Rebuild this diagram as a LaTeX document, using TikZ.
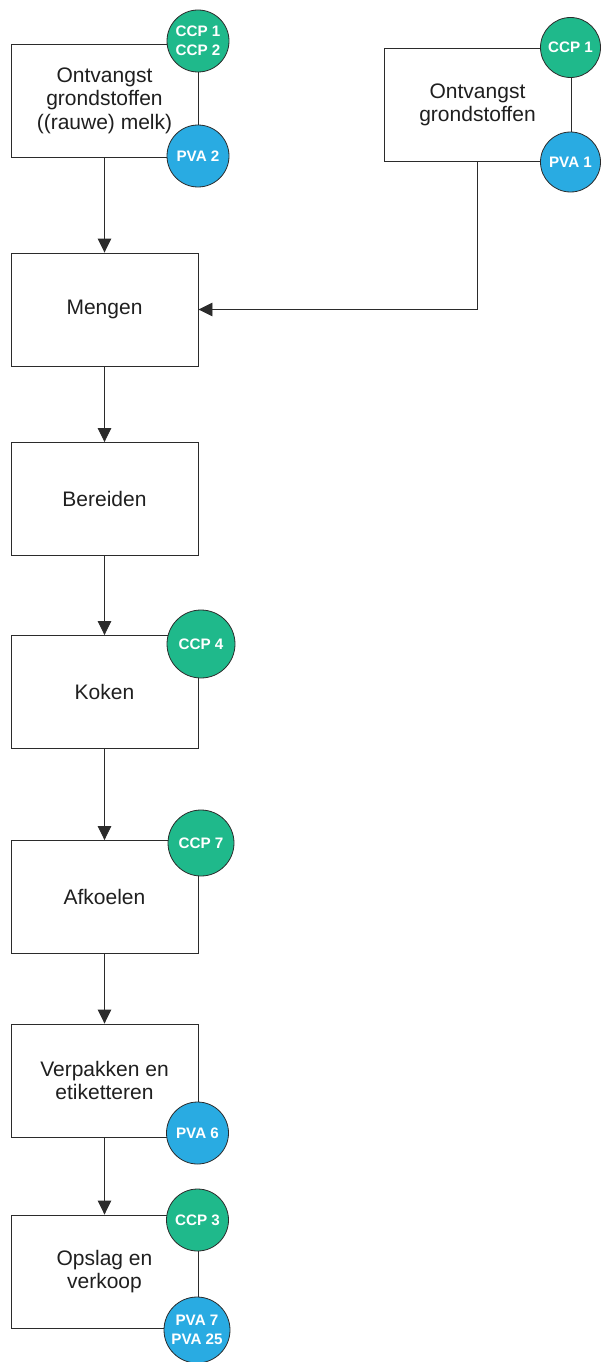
\documentclass[tikz,border=0pt]{standalone}
\usepackage{fontspec}
\setmainfont{Liberation Sans}
\usetikzlibrary{arrows.meta}
\definecolor{ccpgreen}{HTML}{1FB98B}
\definecolor{pvablue}{HTML}{29ABE2}
\definecolor{edge}{HTML}{2B2B2B}

\begin{document}
\begin{tikzpicture}[x=1pt,y=-1pt,
  stepbox/.style={draw=edge, line width=0.9pt, fill=white, text=black!88,
    minimum width=187pt, minimum height=113pt, inner sep=0pt, align=center,
    font=\fontsize{21}{23.5}\selectfont},
  ccp/.style={circle, draw=edge, line width=0.8pt, fill=ccpgreen, text=white,
    minimum size=62pt, inner sep=0pt, align=center,
    font=\fontsize{15.2}{18.5}\selectfont\bfseries},
  pva/.style={ccp, fill=pvablue},
  flow/.style={draw=edge, line width=0.9pt, -{Triangle[length=14pt,width=13.5pt]}}]

  % page frame
  \useasboundingbox (0,0) rectangle (600,1362);

  % process steps
  \node[stepbox] (b1) at (104.5,100.5) {Ontvangst\\grondstoffen\\((rauwe) melk)};
  \node[stepbox] (r1) at (477.5,105) {Ontvangst\\grondstoffen};
  \node[stepbox] (b2) at (104.5,309.5) {Mengen};
  \node[stepbox] (b3) at (104.5,499) {Bereiden};
  \node[stepbox] (b4) at (104.5,692) {Koken};
  \node[stepbox] (b5) at (104.5,897) {Afkoelen};
  \node[stepbox] (b6) at (104.5,1080.5) {Verpakken en\\etiketteren};
  \node[stepbox] (b7) at (104.5,1271.5) {Opslag en\\verkoop};

  % control points
  \node[ccp] (c1) at (198,41) {CCP 1\\CCP 2};
  \node[pva] (p1) at (198,156) {PVA 2};
  \node[ccp, minimum size=60pt] (c2) at (570.5,47.5) {CCP 1};
  \node[pva, minimum size=60pt] (p2) at (570.5,162) {PVA 1};
  \node[ccp, minimum size=68pt] (c3) at (201,644) {CCP 4};
  \node[ccp, minimum size=66pt] (c4) at (201,843) {CCP 7};
  \node[pva] (p3) at (197.5,1133) {PVA 6};
  \node[ccp] (c5) at (197.5,1220) {CCP 3};
  \node[pva, minimum size=66pt] (p4) at (197,1330) {PVA 7\\PVA 25};

  % flow
  \draw[flow] (b1.south) -- (b2.north);
  \draw[flow] (r1.south) |- (b2.east);
  \draw[flow] (b2.south) -- (b3.north);
  \draw[flow] (b3.south) -- (b4.north);
  \draw[flow] (b4.south) -- (b5.north);
  \draw[flow] (b5.south) -- (b6.north);
  \draw[flow] (b6.south) -- (b7.north);
\end{tikzpicture}
\end{document}
